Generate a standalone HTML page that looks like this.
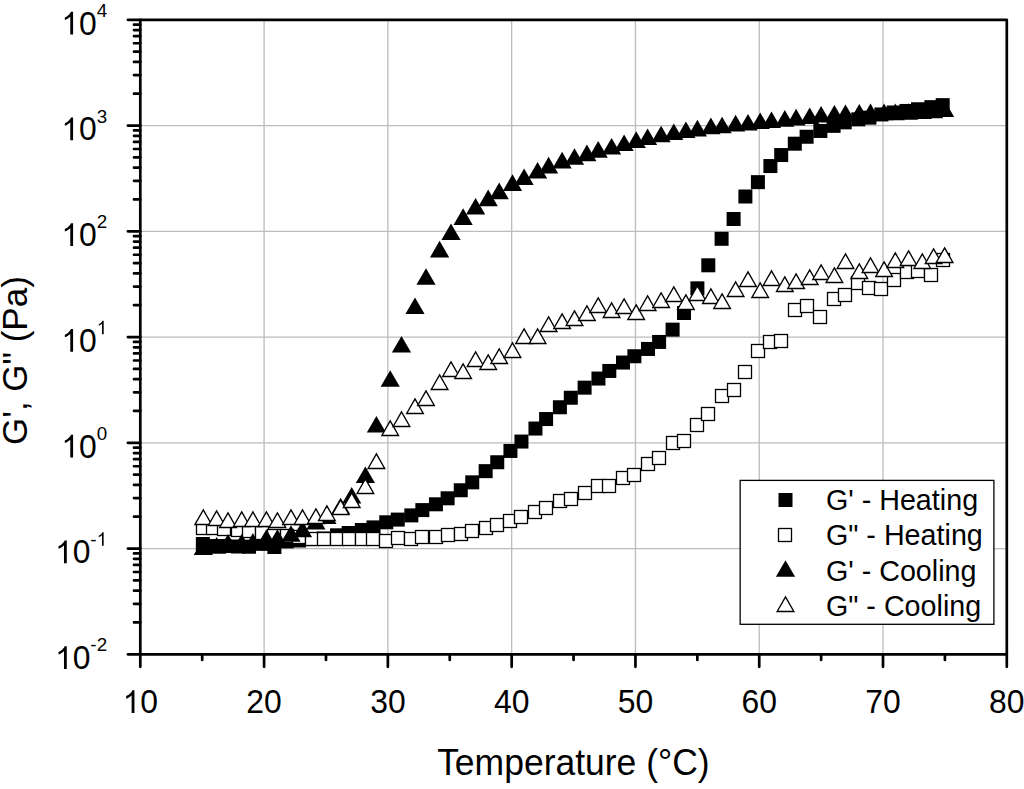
<!DOCTYPE html><html><head><meta charset="utf-8"><style>html,body{margin:0;padding:0;background:#fff;overflow:hidden}svg{display:block}</style></head><body>
<svg width="1024" height="789" viewBox="0 0 1024 789" font-family="Liberation Sans, sans-serif">
<rect width="1024" height="789" fill="#fff"/>
<path d="M264.09 19.8V654.3M387.87 19.8V654.3M511.66 19.8V654.3M635.44 19.8V654.3M759.23 19.8V654.3M883.01 19.8V654.3M140.3 548.55H1006.8M140.3 442.8H1006.8M140.3 337.05H1006.8M140.3 231.3H1006.8M140.3 125.55H1006.8" stroke="#bcbcbc" stroke-width="1.3" fill="none"/>
<g fill="#000"><rect x="195.85" y="537" width="14" height="14"/><rect x="206.45" y="539" width="14" height="14"/><rect x="217.45" y="539" width="14" height="14"/><rect x="230.95" y="539.5" width="14" height="14"/><rect x="242.05" y="539.75" width="14" height="14"/><rect x="255.2" y="536.85" width="14" height="14"/><rect x="267.4" y="540" width="14" height="14"/><rect x="279.8" y="534.4" width="14" height="14"/><rect x="292.1" y="533.5" width="14" height="14"/><rect x="305.2" y="532.1" width="14" height="14"/><rect x="316.8" y="531.5" width="14" height="14"/><rect x="330" y="528.3" width="14" height="14"/><rect x="341.7" y="526" width="14" height="14"/><rect x="354.8" y="523" width="14" height="14"/><rect x="366.5" y="520.4" width="14" height="14"/><rect x="379.25" y="515.3" width="14" height="14"/><rect x="390.75" y="512.6" width="14" height="14"/><rect x="404.35" y="508.4" width="14" height="14"/><rect x="415.35" y="503.1" width="14" height="14"/><rect x="428.95" y="497.3" width="14" height="14"/><rect x="440.6" y="491.3" width="14" height="14"/><rect x="453.75" y="483.25" width="14" height="14"/><rect x="465.25" y="475.35" width="14" height="14"/><rect x="478.65" y="464.15" width="14" height="14"/><rect x="490.25" y="455.25" width="14" height="14"/><rect x="503.45" y="443.95" width="14" height="14"/><rect x="514.45" y="434.55" width="14" height="14"/><rect x="528.45" y="421.55" width="14" height="14"/><rect x="539.1" y="412.05" width="14" height="14"/><rect x="552.9" y="400.25" width="14" height="14"/><rect x="563.8" y="390.75" width="14" height="14"/><rect x="577.6" y="380.65" width="14" height="14"/><rect x="591.45" y="371.55" width="14" height="14"/><rect x="602.3" y="363.95" width="14" height="14"/><rect x="616" y="355.55" width="14" height="14"/><rect x="627.4" y="349.25" width="14" height="14"/><rect x="641" y="341.95" width="14" height="14"/><rect x="652.1" y="334.95" width="14" height="14"/><rect x="665.6" y="322.65" width="14" height="14"/><rect x="677" y="306" width="14" height="14"/><rect x="690.4" y="281.35" width="14" height="14"/><rect x="701.3" y="258.3" width="14" height="14"/><rect x="714.6" y="231.8" width="14" height="14"/><rect x="726.6" y="212" width="14" height="14"/><rect x="738.4" y="189.5" width="14" height="14"/><rect x="750.9" y="175.15" width="14" height="14"/><rect x="763.4" y="159.05" width="14" height="14"/><rect x="774.2" y="148.05" width="14" height="14"/><rect x="787.8" y="136.7" width="14" height="14"/><rect x="799.6" y="129.75" width="14" height="14"/><rect x="813.35" y="123.95" width="14" height="14"/><rect x="826.6" y="118.85" width="14" height="14"/><rect x="837.7" y="115.35" width="14" height="14"/><rect x="851.3" y="112.35" width="14" height="14"/><rect x="862.4" y="110.65" width="14" height="14"/><rect x="874.4" y="107.45" width="14" height="14"/><rect x="886.7" y="105.5" width="14" height="14"/><rect x="899.5" y="103.95" width="14" height="14"/><rect x="911" y="102.25" width="14" height="14"/><rect x="924.4" y="100.15" width="14" height="14"/><rect x="935.7" y="98.15" width="14" height="14"/></g>
<g fill="#fff" stroke="#000" stroke-width="1.3"><rect x="196.5" y="521.5" width="13" height="13"/><rect x="206.5" y="521.5" width="13" height="13"/><rect x="217.5" y="522.5" width="13" height="13"/><rect x="231.5" y="523.5" width="13" height="13"/><rect x="242.5" y="524.5" width="13" height="13"/><rect x="255.5" y="526.5" width="13" height="13"/><rect x="267.5" y="529.5" width="13" height="13"/><rect x="280.5" y="529.5" width="13" height="13"/><rect x="292.5" y="530.5" width="13" height="13"/><rect x="305.5" y="532.5" width="13" height="13"/><rect x="317.5" y="532.5" width="13" height="13"/><rect x="330.5" y="532.5" width="13" height="13"/><rect x="342.5" y="532.5" width="13" height="13"/><rect x="355.5" y="532.5" width="13" height="13"/><rect x="366.5" y="532.5" width="13" height="13"/><rect x="379.5" y="534.5" width="13" height="13"/><rect x="391.5" y="531.5" width="13" height="13"/><rect x="404.5" y="532.5" width="13" height="13"/><rect x="415.5" y="530.5" width="13" height="13"/><rect x="429.5" y="530.5" width="13" height="13"/><rect x="441.5" y="528.5" width="13" height="13"/><rect x="454.5" y="527.5" width="13" height="13"/><rect x="465.5" y="524.5" width="13" height="13"/><rect x="479.5" y="521.5" width="13" height="13"/><rect x="490.5" y="518.5" width="13" height="13"/><rect x="503.5" y="514.5" width="13" height="13"/><rect x="514.5" y="510.5" width="13" height="13"/><rect x="528.5" y="505.5" width="13" height="13"/><rect x="539.5" y="501.5" width="13" height="13"/><rect x="553.5" y="494.5" width="13" height="13"/><rect x="564.5" y="492.5" width="13" height="13"/><rect x="578.5" y="486.5" width="13" height="13"/><rect x="591.5" y="479.5" width="13" height="13"/><rect x="602.5" y="479.5" width="13" height="13"/><rect x="616.5" y="471.5" width="13" height="13"/><rect x="627.5" y="468.5" width="13" height="13"/><rect x="641.5" y="457.5" width="13" height="13"/><rect x="652.5" y="451.5" width="13" height="13"/><rect x="666.5" y="436.5" width="13" height="13"/><rect x="677.5" y="434.5" width="13" height="13"/><rect x="690.5" y="418.5" width="13" height="13"/><rect x="701.5" y="407.5" width="13" height="13"/><rect x="715.5" y="389.5" width="13" height="13"/><rect x="727.5" y="383.5" width="13" height="13"/><rect x="738.5" y="365.5" width="13" height="13"/><rect x="751.5" y="344.5" width="13" height="13"/><rect x="763.5" y="335.5" width="13" height="13"/><rect x="774.5" y="334.5" width="13" height="13"/><rect x="788.5" y="303.5" width="13" height="13"/><rect x="800.5" y="299.5" width="13" height="13"/><rect x="813.5" y="310.5" width="13" height="13"/><rect x="827.5" y="292.5" width="13" height="13"/><rect x="838.5" y="288.5" width="13" height="13"/><rect x="851.5" y="276.5" width="13" height="13"/><rect x="862.5" y="281.5" width="13" height="13"/><rect x="874.5" y="282.5" width="13" height="13"/><rect x="887.5" y="273.5" width="13" height="13"/><rect x="900.5" y="265.5" width="13" height="13"/><rect x="911.5" y="264.5" width="13" height="13"/><rect x="924.5" y="268.5" width="13" height="13"/><rect x="936.5" y="253.5" width="13" height="13"/></g>
<g fill="#000"><path d="M203.3 538.5L212.9 555.1L193.7 555.1Z"/><path d="M216.6 537.1L226.2 553.7L207 553.7Z"/><path d="M228 533.9L237.6 550.5L218.4 550.5Z"/><path d="M241.7 533.9L251.3 550.5L232.1 550.5Z"/><path d="M252.9 533.1L262.5 549.7L243.3 549.7Z"/><path d="M266.4 529.2L276 545.8L256.8 545.8Z"/><path d="M277.4 529.2L287 545.8L267.8 545.8Z"/><path d="M291 525.2L300.6 541.8L281.4 541.8Z"/><path d="M302.5 520.7L312.1 537.3L292.9 537.3Z"/><path d="M315.9 512.8L325.5 529.4L306.3 529.4Z"/><path d="M326.9 507.4L336.5 524L317.3 524Z"/><path d="M340.6 497.7L350.2 514.3L331 514.3Z"/><path d="M351.7 486.9L361.3 503.5L342.1 503.5Z"/><path d="M365.4 466.4L375 483L355.8 483Z"/><path d="M376.4 416L386 432.6L366.8 432.6Z"/><path d="M390.2 370.2L399.8 386.8L380.6 386.8Z"/><path d="M401.5 336L411.1 352.6L391.9 352.6Z"/><path d="M415 297.4L424.6 314L405.4 314Z"/><path d="M426 268.2L435.6 284.8L416.4 284.8Z"/><path d="M439.6 240.8L449.2 257.4L430 257.4Z"/><path d="M451 223.5L460.6 240.1L441.4 240.1Z"/><path d="M463.1 208.3L472.7 224.9L453.5 224.9Z"/><path d="M475.6 197.9L485.2 214.5L466 214.5Z"/><path d="M488.2 189.6L497.8 206.2L478.6 206.2Z"/><path d="M499.2 182.6L508.8 199.2L489.6 199.2Z"/><path d="M512.5 174.3L522.1 190.9L502.9 190.9Z"/><path d="M524.1 168.5L533.7 185.1L514.5 185.1Z"/><path d="M537.6 161.9L547.2 178.5L528 178.5Z"/><path d="M548.6 156.8L558.2 173.4L539 173.4Z"/><path d="M562.1 151.8L571.7 168.4L552.5 168.4Z"/><path d="M574.5 148.2L584.1 164.8L564.9 164.8Z"/><path d="M586.9 144.6L596.5 161.2L577.3 161.2Z"/><path d="M598.2 141.1L607.8 157.7L588.6 157.7Z"/><path d="M611.6 138L621.2 154.6L602 154.6Z"/><path d="M624.1 134.4L633.7 151L614.5 151Z"/><path d="M636.2 131.3L645.8 147.9L626.6 147.9Z"/><path d="M647.6 128.4L657.2 145L638 145Z"/><path d="M661.1 125.7L670.7 142.3L651.5 142.3Z"/><path d="M673.8 123.4L683.4 140L664.2 140Z"/><path d="M685.9 121.5L695.5 138.1L676.3 138.1Z"/><path d="M697.4 119.8L707 136.4L687.8 136.4Z"/><path d="M710.9 117.6L720.5 134.2L701.3 134.2Z"/><path d="M722.1 116.7L731.7 133.3L712.5 133.3Z"/><path d="M735.6 114.8L745.2 131.4L726 131.4Z"/><path d="M748 114L757.6 130.6L738.4 130.6Z"/><path d="M760.2 112.5L769.8 129.1L750.6 129.1Z"/><path d="M771.5 111.4L781.1 128L761.9 128Z"/><path d="M784.8 110.1L794.4 126.7L775.2 126.7Z"/><path d="M796.1 108.8L805.7 125.4L786.5 125.4Z"/><path d="M809.7 107.4L819.3 124L800.1 124Z"/><path d="M821.1 106L830.7 122.6L811.5 122.6Z"/><path d="M834.4 105L844 121.6L824.8 121.6Z"/><path d="M845.5 104.4L855.1 121L835.9 121Z"/><path d="M859.3 103.9L868.9 120.5L849.7 120.5Z"/><path d="M870.5 103.6L880.1 120.2L860.9 120.2Z"/><path d="M884.1 103.6L893.7 120.2L874.5 120.2Z"/><path d="M895.3 103.6L904.9 120.2L885.7 120.2Z"/><path d="M908.6 103.2L918.2 119.8L899 119.8Z"/><path d="M922.3 102.5L931.9 119.1L912.7 119.1Z"/><path d="M933.6 101.7L943.2 118.3L924 118.3Z"/><path d="M944.6 100.5L954.2 117.1L935 117.1Z"/></g>
<g fill="#fff" stroke="#000" stroke-width="1.35" stroke-linejoin="miter"><path d="M203.3 509.93L211.63 524.5L194.97 524.5Z"/><path d="M216.6 510.93L224.93 525.5L208.27 525.5Z"/><path d="M228 512.92L236.33 527.5L219.67 527.5Z"/><path d="M241.7 511.92L250.03 526.5L233.37 526.5Z"/><path d="M252.9 511.92L261.23 526.5L244.57 526.5Z"/><path d="M266.4 511.92L274.73 526.5L258.07 526.5Z"/><path d="M277.4 512.92L285.73 527.5L269.07 527.5Z"/><path d="M291 509.93L299.33 524.5L282.67 524.5Z"/><path d="M302.5 509.93L310.83 524.5L294.17 524.5Z"/><path d="M315.9 508.93L324.23 523.5L307.57 523.5Z"/><path d="M326.9 505.93L335.23 520.5L318.57 520.5Z"/><path d="M340.6 499.93L348.93 514.5L332.27 514.5Z"/><path d="M351.7 492.93L360.03 507.5L343.37 507.5Z"/><path d="M365.4 478.93L373.73 493.5L357.07 493.5Z"/><path d="M376.4 453.93L384.73 468.5L368.07 468.5Z"/><path d="M390.2 420.93L398.53 435.5L381.87 435.5Z"/><path d="M401.5 411.93L409.83 426.5L393.17 426.5Z"/><path d="M415 398.93L423.33 413.5L406.67 413.5Z"/><path d="M426 390.93L434.33 405.5L417.67 405.5Z"/><path d="M439.6 374.93L447.93 389.5L431.27 389.5Z"/><path d="M451 361.93L459.33 376.5L442.67 376.5Z"/><path d="M463.1 363.93L471.43 378.5L454.77 378.5Z"/><path d="M475.6 351.93L483.93 366.5L467.27 366.5Z"/><path d="M488.2 354.93L496.53 369.5L479.87 369.5Z"/><path d="M499.2 348.93L507.53 363.5L490.87 363.5Z"/><path d="M512.5 342.93L520.83 357.5L504.17 357.5Z"/><path d="M524.1 328.93L532.43 343.5L515.77 343.5Z"/><path d="M537.6 328.93L545.93 343.5L529.27 343.5Z"/><path d="M548.6 316.93L556.93 331.5L540.27 331.5Z"/><path d="M562.1 313.93L570.43 328.5L553.77 328.5Z"/><path d="M574.5 310.93L582.83 325.5L566.17 325.5Z"/><path d="M586.9 305.93L595.23 320.5L578.57 320.5Z"/><path d="M598.2 297.93L606.53 312.5L589.87 312.5Z"/><path d="M611.6 302.93L619.93 317.5L603.27 317.5Z"/><path d="M624.1 298.93L632.43 313.5L615.77 313.5Z"/><path d="M636.2 304.93L644.53 319.5L627.87 319.5Z"/><path d="M647.6 295.93L655.93 310.5L639.27 310.5Z"/><path d="M661.1 292.93L669.43 307.5L652.77 307.5Z"/><path d="M673.8 286.93L682.13 301.5L665.47 301.5Z"/><path d="M685.9 294.93L694.23 309.5L677.57 309.5Z"/><path d="M697.4 285.93L705.73 300.5L689.07 300.5Z"/><path d="M710.9 288.93L719.23 303.5L702.57 303.5Z"/><path d="M722.1 293.93L730.43 308.5L713.77 308.5Z"/><path d="M735.6 281.93L743.93 296.5L727.27 296.5Z"/><path d="M748 271.93L756.33 286.5L739.67 286.5Z"/><path d="M760.2 282.93L768.53 297.5L751.87 297.5Z"/><path d="M771.5 270.93L779.83 285.5L763.17 285.5Z"/><path d="M784.8 276.93L793.13 291.5L776.47 291.5Z"/><path d="M796.1 273.93L804.43 288.5L787.77 288.5Z"/><path d="M809.7 269.93L818.03 284.5L801.37 284.5Z"/><path d="M821.1 264.93L829.43 279.5L812.77 279.5Z"/><path d="M834.4 267.93L842.73 282.5L826.07 282.5Z"/><path d="M845.5 253.92L853.83 268.5L837.17 268.5Z"/><path d="M859.3 263.93L867.63 278.5L850.97 278.5Z"/><path d="M870.5 257.93L878.83 272.5L862.17 272.5Z"/><path d="M884.1 261.93L892.43 276.5L875.77 276.5Z"/><path d="M895.3 252.92L903.63 267.5L886.97 267.5Z"/><path d="M908.6 250.92L916.93 265.5L900.27 265.5Z"/><path d="M922.3 253.92L930.63 268.5L913.97 268.5Z"/><path d="M933.6 248.93L941.93 263.5L925.27 263.5Z"/><path d="M944.6 247.92L952.93 262.5L936.27 262.5Z"/></g>
<rect x="740.15" y="480.4" width="253.75" height="143.9" fill="#fff" stroke="#000" stroke-width="1.3"/>
<g fill="#000"><rect x="778.5" y="493" width="14" height="14"/><path d="M785.5 560.2L795.1 576.8L775.9 576.8Z"/></g>
<g fill="#fff" stroke="#000" stroke-width="1.3"><rect x="778.5" y="528.5" width="13" height="13"/></g>
<g fill="#fff" stroke="#000" stroke-width="1.35"><path d="M785.5 596.92L793.83 611.5L777.17 611.5Z"/></g>
<text transform="translate(825.9 509.6) scale(1 1.045)" font-size="28.7">G' - Heating</text>
<text transform="translate(825.9 545) scale(1 1.045)" font-size="28.7">G" - Heating</text>
<text transform="translate(825.9 580.6) scale(1 1.045)" font-size="28.7">G' - Cooling</text>
<text transform="translate(825.9 615.6) scale(1 1.045)" font-size="28.7">G" - Cooling</text>
<path d="M140.3 19.8H1006.8V654.3H140.3Z" stroke="#000" stroke-width="2.7" fill="none" stroke-linejoin="round"/>
<path d="M140.3 654.3H127.9M140.3 622.47H134.0M140.3 603.84H134.0M140.3 590.63H134.0M140.3 580.38H134.0M140.3 572.01H134.0M140.3 564.93H134.0M140.3 558.8H134.0M140.3 553.39H134.0M140.3 548.55H127.9M140.3 516.72H134.0M140.3 498.09H134.0M140.3 484.88H134.0M140.3 474.63H134.0M140.3 466.26H134.0M140.3 459.18H134.0M140.3 453.05H134.0M140.3 447.64H134.0M140.3 442.8H127.9M140.3 410.97H134.0M140.3 392.34H134.0M140.3 379.13H134.0M140.3 368.88H134.0M140.3 360.51H134.0M140.3 353.43H134.0M140.3 347.3H134.0M140.3 341.89H134.0M140.3 337.05H127.9M140.3 305.22H134.0M140.3 286.59H134.0M140.3 273.38H134.0M140.3 263.13H134.0M140.3 254.76H134.0M140.3 247.68H134.0M140.3 241.55H134.0M140.3 236.14H134.0M140.3 231.3H127.9M140.3 199.47H134.0M140.3 180.84H134.0M140.3 167.63H134.0M140.3 157.38H134.0M140.3 149.01H134.0M140.3 141.93H134.0M140.3 135.8H134.0M140.3 130.39H134.0M140.3 125.55H127.9M140.3 93.72H134.0M140.3 75.09H134.0M140.3 61.88H134.0M140.3 51.63H134.0M140.3 43.26H134.0M140.3 36.18H134.0M140.3 30.05H134.0M140.3 24.64H134.0M140.3 19.8H127.9M140.3 654.3V666.8M264.09 654.3V666.8M387.87 654.3V666.8M511.66 654.3V666.8M635.44 654.3V666.8M759.23 654.3V666.8M883.01 654.3V666.8M1006.8 654.3V666.8M202.19 654.3V660.0M325.98 654.3V660.0M449.76 654.3V660.0M573.55 654.3V660.0M697.34 654.3V660.0M821.12 654.3V660.0M944.91 654.3V660.0" stroke="#000" stroke-width="2.7" fill="none" stroke-linecap="round"/>
<g fill="#000"><path d="M134.45 713.1L131.64 713.1L131.64 695.23L130.63 696.2L129.29 697.17L127.66 698.13L126.19 698.69L126.19 695.98L128.61 694.84L130.43 693.22L131.71 691.64L132.24 690.27L134.45 690.27Z"/><text transform="translate(140.3 713.1) scale(1 1.035)" font-size="31.9">0</text><text transform="translate(246.35 713.1) scale(1 1.035)" font-size="31.9">20</text><text transform="translate(370.14 713.1) scale(1 1.035)" font-size="31.9">30</text><text transform="translate(493.92 713.1) scale(1 1.035)" font-size="31.9">40</text><text transform="translate(617.71 713.1) scale(1 1.035)" font-size="31.9">50</text><text transform="translate(741.49 713.1) scale(1 1.035)" font-size="31.9">60</text><text transform="translate(865.28 713.1) scale(1 1.035)" font-size="31.9">70</text><text transform="translate(989.06 713.1) scale(1 1.035)" font-size="31.9">80</text><path d="M66.78 669L63.98 669L63.98 651.13L62.97 652.1L61.63 653.07L59.99 654.03L58.53 654.59L58.53 651.88L60.94 650.74L62.77 649.12L64.04 647.54L64.57 646.17L66.78 646.17Z"/><text transform="translate(72.64 669) scale(1 1.035)" font-size="31.9">0</text><text x="90.37" y="651.4" font-size="18.8">-</text><text x="96.63" y="651.4" font-size="18.8">2</text><path d="M66.78 563.25L63.98 563.25L63.98 545.38L62.97 546.35L61.63 547.32L59.99 548.28L58.53 548.84L58.53 546.13L60.94 544.99L62.77 543.37L64.04 541.79L64.57 540.42L66.78 540.42Z"/><text transform="translate(72.64 563.25) scale(1 1.035)" font-size="31.9">0</text><text x="90.37" y="545.65" font-size="18.8">-</text><path d="M103.64 545.65L101.98 545.65L101.98 535.12L101.39 535.69L100.6 536.26L99.63 536.83L98.77 537.16L98.77 535.56L100.19 534.89L101.27 533.94L102.02 533L102.33 532.19L103.64 532.19Z"/><path d="M73.08 457.5L70.28 457.5L70.28 439.63L69.27 440.6L67.93 441.57L66.29 442.53L64.83 443.09L64.83 440.38L67.24 439.24L69.07 437.62L70.34 436.04L70.87 434.67L73.08 434.67Z"/><text transform="translate(78.94 457.5) scale(1 1.035)" font-size="31.9">0</text><text x="96.67" y="439.9" font-size="18.8">0</text><path d="M73.08 351.75L70.28 351.75L70.28 333.88L69.27 334.85L67.93 335.82L66.29 336.78L64.83 337.34L64.83 334.63L67.24 333.49L69.07 331.87L70.34 330.29L70.87 328.92L73.08 328.92Z"/><text transform="translate(78.94 351.75) scale(1 1.035)" font-size="31.9">0</text><path d="M103.68 334.15L102.02 334.15L102.02 323.62L101.43 324.19L100.64 324.76L99.67 325.33L98.81 325.66L98.81 324.06L100.23 323.39L101.31 322.44L102.06 321.5L102.37 320.69L103.68 320.69Z"/><path d="M73.08 246L70.28 246L70.28 228.13L69.27 229.1L67.93 230.07L66.29 231.03L64.83 231.59L64.83 228.88L67.24 227.74L69.07 226.12L70.34 224.54L70.87 223.17L73.08 223.17Z"/><text transform="translate(78.94 246) scale(1 1.035)" font-size="31.9">0</text><text x="96.67" y="228.4" font-size="18.8">2</text><path d="M73.08 140.25L70.28 140.25L70.28 122.38L69.27 123.35L67.93 124.32L66.29 125.28L64.83 125.84L64.83 123.13L67.24 121.99L69.07 120.37L70.34 118.79L70.87 117.42L73.08 117.42Z"/><text transform="translate(78.94 140.25) scale(1 1.035)" font-size="31.9">0</text><text x="96.67" y="122.65" font-size="18.8">3</text><path d="M73.08 34.5L70.28 34.5L70.28 16.63L69.27 17.6L67.93 18.57L66.29 19.53L64.83 20.09L64.83 17.38L67.24 16.24L69.07 14.62L70.34 13.04L70.87 11.67L73.08 11.67Z"/><text transform="translate(78.94 34.5) scale(1 1.035)" font-size="31.9">0</text><text x="96.67" y="16.9" font-size="18.8">4</text></g>
<text transform="translate(573.4 774.6) scale(1 1.02)" font-size="35.5" text-anchor="middle">Temperature (°C)</text>
<text transform="translate(27.3 360.6) rotate(-90)" font-size="35" text-anchor="middle">G', G" (Pa)</text>
</svg></body></html>
